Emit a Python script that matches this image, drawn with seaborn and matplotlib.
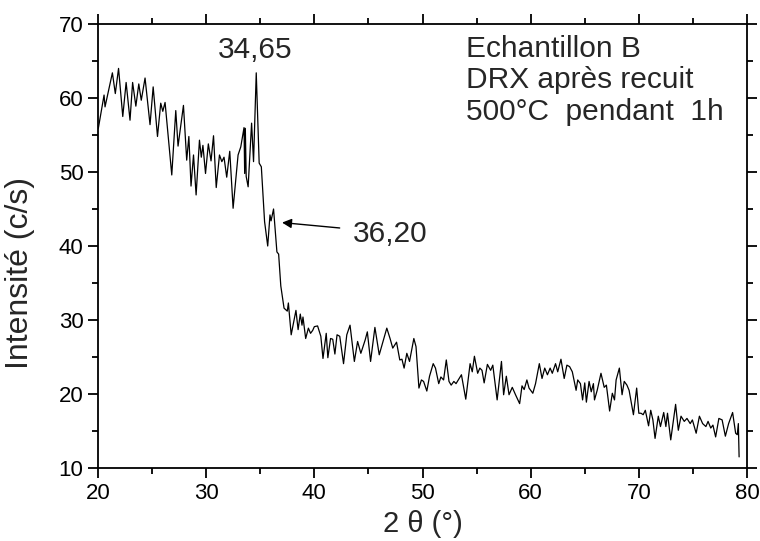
import numpy as np
import pandas as pd
import matplotlib
matplotlib.use("Agg")
import matplotlib.pyplot as plt
from matplotlib.ticker import MultipleLocator
import seaborn as sns

# diffractogramme (extrema successifs)
deux_theta = [20.03, 20.56, 20.65, 21.33, 21.6, 21.9, 22.29, 22.6, 22.96, 23.2, 23.5, 23.77,
              24.0, 24.35, 24.81, 25.1, 25.5, 25.8, 25.99, 26.2, 26.82, 27.19, 27.4, 27.9,
              28.2, 28.4, 28.6, 28.83, 29.07, 29.38, 29.55, 29.7, 29.94, 30.2, 30.45, 30.68,
              30.93, 31.23, 31.45, 31.65, 31.9, 32.18, 32.49, 32.95, 33.2, 33.5, 33.56, 33.62,
              33.7, 33.88, 34.2, 34.38, 34.63, 34.9, 35.1, 35.4, 35.69, 35.9, 36.0, 36.23,
              36.54, 36.7, 36.9, 37.2, 37.5, 37.6, 37.86, 38.3, 38.5, 38.7, 38.86, 38.95,
              39.2, 39.45, 39.65, 39.85, 40.0, 40.3, 40.6, 40.8, 41.1, 41.25, 41.5, 41.7,
              41.9, 42.1, 42.35, 42.7, 43.0, 43.3, 43.7, 44.0, 44.3, 44.7, 44.9, 45.2,
              45.6, 46.0, 46.35, 46.7, 47.0, 47.25, 47.6, 47.9, 48.1, 48.3, 48.55, 48.8,
              49.2, 49.4, 49.67, 49.9, 50.1, 50.4, 50.65, 50.99, 51.2, 51.5, 51.7, 51.95,
              52.2, 52.45, 52.65, 52.9, 53.1, 53.6, 54.0, 54.4, 54.6, 54.8, 55.1, 55.3,
              55.5, 55.7, 56.0, 56.3, 56.5, 56.9, 57.3, 57.5, 57.75, 58.0, 58.3, 58.6,
              58.98, 59.2, 59.4, 59.65, 59.85, 60.2, 60.45, 60.8, 61.05, 61.3, 61.55, 61.8,
              62.0, 62.3, 62.5, 62.8, 63.1, 63.35, 63.6, 63.85, 64.2, 64.35, 64.6, 64.8,
              65.0, 65.15, 65.4, 65.6, 65.8, 65.9, 66.15, 66.5, 66.8, 67.0, 67.3, 67.55,
              67.75, 67.9, 68.2, 68.45, 68.65, 68.9, 69.1, 69.5, 69.8, 70.0, 70.2, 70.4,
              70.6, 70.9, 71.1, 71.3, 71.5, 71.8, 72.0, 72.3, 72.5, 72.65, 72.95, 73.4,
              73.65, 73.9, 74.2, 74.45, 74.75, 74.95, 75.3, 75.6, 75.9, 76.2, 76.4, 76.65,
              76.85, 77.1, 77.4, 77.7, 78.0, 78.3, 78.67, 78.95, 79.1, 79.2, 79.27]
intensite = [55.9, 60.4, 58.8, 63.4, 60.6, 64.0, 57.5, 62.1, 57.0, 62.1, 58.9, 61.9,
             59.7, 62.7, 56.4, 61.5, 54.8, 59.3, 58.2, 59.4, 49.6, 58.3, 53.5, 59.0,
             51.6, 54.8, 48.1, 52.3, 46.9, 54.3, 52.0, 53.6, 49.8, 53.8, 51.5, 54.9,
             47.9, 52.3, 51.4, 52.0, 49.3, 52.8, 45.1, 52.3, 53.4, 56.0, 49.8, 55.9,
             49.4, 48.0, 56.6, 51.4, 63.4, 51.2, 50.7, 43.3, 40.0, 44.2, 43.4, 45.0,
             39.2, 38.9, 34.6, 31.6, 31.2, 32.3, 28.0, 31.3, 28.7, 30.8, 29.3, 30.4,
             27.5, 28.9, 28.2, 28.6, 29.1, 29.2, 27.8, 24.8, 28.2, 24.9, 27.5, 27.4,
             25.4, 28.0, 27.8, 24.1, 28.0, 29.3, 24.4, 27.1, 25.5, 27.3, 28.4, 24.4,
             29.0, 25.3, 27.1, 28.9, 27.5, 26.2, 27.0, 24.6, 24.7, 23.5, 25.5, 24.4,
             27.5, 26.4, 20.8, 21.9, 21.7, 20.4, 22.4, 24.1, 23.5, 21.4, 22.3, 21.9,
             24.6, 21.7, 21.2, 21.7, 21.4, 22.6, 19.3, 24.1, 23.0, 25.1, 22.8, 23.5,
             23.2, 21.5, 24.0, 23.2, 23.9, 19.2, 24.4, 19.9, 22.4, 19.9, 20.9, 19.9,
             18.7, 21.1, 20.6, 21.9, 20.8, 20.1, 21.4, 24.1, 22.1, 23.5, 22.6, 23.5,
             22.8, 24.1, 23.0, 24.7, 22.1, 23.9, 23.7, 23.0, 20.5, 21.9, 21.4, 19.2,
             21.5, 18.9, 21.7, 20.3, 21.4, 19.2, 20.5, 22.8, 20.9, 21.2, 17.7, 20.1,
             19.2, 21.9, 23.5, 19.9, 21.7, 21.2, 20.5, 17.2, 20.8, 17.4, 17.4, 17.2,
             17.8, 15.7, 17.8, 16.5, 14.0, 17.0, 15.6, 17.5, 15.6, 17.4, 13.8, 18.6,
             15.1, 17.0, 16.3, 16.7, 16.0, 16.5, 14.7, 17.0, 16.0, 15.6, 16.3, 15.4,
             15.8, 14.2, 16.7, 16.5, 14.3, 16.0, 17.5, 14.7, 14.5, 16.0, 11.5]

df = pd.DataFrame({"2theta": deux_theta, "I": intensite})

sns.set_style("ticks")
plt.rcParams["font.family"] = ["Liberation Sans", "DejaVu Sans"]

fig = plt.figure(figsize=(7.6, 5.41), dpi=100)
ax = fig.add_axes([98/760, 1-468/541, (747-98)/760, (468-24)/541])

sns.lineplot(data=df, x="2theta", y="I", color="black", lw=0.9, ax=ax, sort=False)

ax.set_xlim(20, 80)
ax.set_ylim(10, 70)
ax.xaxis.set_major_locator(MultipleLocator(10))
ax.xaxis.set_minor_locator(MultipleLocator(5))
ax.yaxis.set_major_locator(MultipleLocator(10))
ax.yaxis.set_minor_locator(MultipleLocator(5))
for s in ax.spines.values():
    s.set_linewidth(1.3)
    s.set_color("black")
ax.tick_params(which="both", direction="out", top=True, right=True, width=1.3,
               labelsize=16, colors="black")
ax.tick_params(which="major", length=7)
ax.tick_params(which="minor", length=4)

ax.set_xlabel("2 θ (°)", fontsize=21)
ax.set_ylabel("Intensité (c/s)", fontsize=23)
ax.xaxis.set_label_coords(0.5, -0.095)
ax.yaxis.set_label_coords(-0.097, 0.44)

# annotations
ax.text(34.49, 65.4, "34,65", fontsize=21.5, ha="center", va="baseline")
ax.annotate("", xy=(36.76, 43.2), xytext=(42.6, 42.4),
            arrowprops=dict(arrowstyle="-|>", color="black", lw=1, mutation_scale=14))
ax.text(43.6, 40.6, "36,20", fontsize=21.5, ha="left", va="baseline")
ax.text(53.98, 68.5, "Echantillon B\nDRX après recuit\n500°C  pendant  1h",
        fontsize=21.5, ha="left", va="top", linespacing=1.15)

fig.savefig("out.png", dpi=100)
